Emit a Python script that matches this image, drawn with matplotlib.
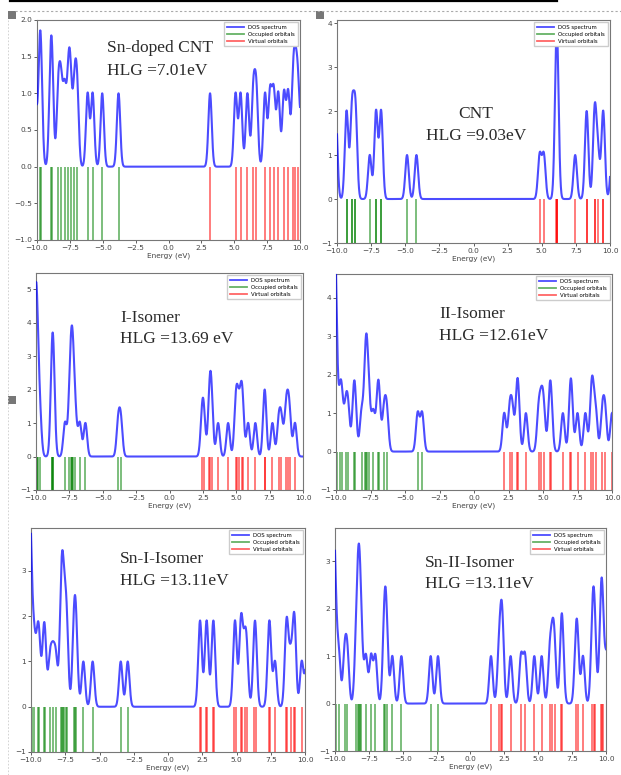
import numpy as np
import matplotlib
matplotlib.use('Agg')
import matplotlib.pyplot as plt
from matplotlib.patches import Rectangle
from matplotlib.lines import Line2D

# ---------------- data ----------------
names = ["Sn-doped CNT", "CNT", "I-Isomer", "II-Isomer", "Sn-I-Isomer", "Sn-II-Isomer"]
hlg_labels = ["HLG =7.01eV", "HLG =9.03eV", "HLG =13.69 eV", "HLG =12.61eV",
              "HLG =13.11eV", "HLG =13.11eV"]

occ_sn_cnt = [-10.15, -9.8, -9.7, -8.97, -8.85, -8.38, -8.17, -7.9, -7.62, -7.45,
              -7.15, -6.95, -6.15, -5.77, -5.04, -3.8]
vir_sn_cnt = [3.16, 5.1, 5.48, 6.0, 6.45, 6.68, 7.34, 7.72, 8.0, 8.35, 8.78, 9.1,
              9.47, 9.65, 9.85, 10.2]

occ_cnt = [-10.1, -10.1, -9.3, -9.3, -8.9, -8.9, -8.65, -8.65, -7.6, -7.14, -7.14,
           -6.77, -6.77, -4.87, -4.18]
vir_cnt = [4.85, 5.15, 6.06, 6.09, 6.11, 6.14, 7.45, 8.29, 8.29, 8.88, 8.88, 9.12,
           9.5, 9.5, 10.15]

occ_iso1 = [-10.05, -10.05, -10.05, -9.95, -9.95, -9.85, -9.7, -8.8, -8.8, -8.7, -8.7,
            -7.83, -7.5, -7.4, -7.3, -7.3, -7.2, -7.05, -6.72, -6.3, -3.84, -3.64]
vir_iso1 = [2.44, 2.57, 2.98, 3.07, 3.16, 3.64, 4.39, 4.95, 5.05, 5.22, 5.4, 5.47,
            5.89, 6.43, 7.13, 7.13, 7.71, 8.18, 8.38, 8.7, 8.85, 9.0, 9.4]

occ_iso2 = [-10.1, -10.1, -10.1, -10.1, -10.1, -9.95, -9.7, -9.58, -9.3, -9.12,
            -8.72, -8.62, -8.15, -7.88, -7.82, -7.76, -7.6, -7.3, -6.98, -6.88,
            -6.52, -6.32, -4.08, -3.76]
vir_iso2 = [2.19, 2.58, 2.78, 3.12, 3.2, 3.76, 4.68, 4.88, 5.05, 5.48, 5.58, 6.44,
            6.98, 7.06, 7.5, 8.07, 8.5, 8.6, 8.82, 9.3, 9.5, 10.0]

occ_sn_iso1 = [-10.1, -10.1, -10.1, -10.1, -9.9, -9.75, -9.52, -9.4, -9.08, -8.98,
               -8.62, -8.4, -8.18, -7.82, -7.76, -7.7, -7.6, -7.45, -7.38, -6.89,
               -6.79, -6.69, -6.18, -5.5, -3.45, -2.94]
vir_sn_iso1 = [2.3, 2.38, 2.78, 2.86, 3.27, 3.35, 4.85, 4.93, 5.3, 5.37, 5.6, 5.75,
               6.31, 6.39, 7.36, 7.44, 7.81, 8.62, 8.7, 8.95, 9.2, 9.24, 9.76, 10.12]

occ_sn_iso2 = [-10.1, -10.1, -10.1, -9.95, -9.72, -9.29, -9.09, -8.45, -8.3, -8.25,
               -8.18, -8.05, -7.72, -7.34, -7.02, -6.38, -6.29, -6.18, -5.77, -5.1,
               -2.94, -2.4]
vir_sn_iso2 = [1.51, 2.1, 2.28, 2.36, 2.96, 3.73, 4.02, 4.71, 5.25, 5.85, 6.05, 6.2,
               6.7, 6.78, 7.78, 7.9, 8.3, 8.98, 9.08, 9.18, 9.6, 9.68, 9.76, 10.05]

occupied = [occ_sn_cnt, occ_cnt, occ_iso1, occ_iso2, occ_sn_iso1, occ_sn_iso2]
virtual = [vir_sn_cnt, vir_cnt, vir_iso1, vir_iso2, vir_sn_iso1, vir_sn_iso2]
y_top = [2.0, 4.07, 5.48, 4.62, 3.95, 3.7]
fwhm = 0.3  # eV, gaussian broadening

# ---------------- layout (pixels of a 621x775 canvas) ----------------
W, H = 621, 775
fig = plt.figure(figsize=(W / 100, H / 100), dpi=100)
fig.patch.set_facecolor('white')

def px_axes(x0, y0, x1, y1):
    return fig.add_axes([x0 / W, 1 - y1 / H, (x1 - x0) / W, (y1 - y0) / H])

boxes = [(37, 20, 300, 240), (337, 20, 610, 243),
         (36, 273, 303, 490), (336, 274, 612, 490),
         (31, 528, 305, 752), (335, 528, 606, 751)]

# text anchors: (x, baseline line1, baseline line2, ha)
text_pos = [(107, 52, 75, 'left'), (476, 118, 140, 'center'),
            (120, 322, 343, 'left'), (439, 318, 340, 'left'),
            (120, 563, 585, 'left'), (425, 567, 588, 'left')]

E = np.linspace(-10, 10, 2001)
sigma = fwhm / 2.3548

for i in range(6):
    ax = px_axes(*boxes[i])
    levels = np.array(occupied[i] + virtual[i])
    dos = np.exp(-(E[:, None] - levels[None, :]) ** 2 / (2 * sigma ** 2)).sum(axis=1)
    ax.plot(E, dos, color='blue', alpha=0.7, lw=1.5, label='DOS spectrum', zorder=3)
    ax.vlines(occupied[i], -1, 0, colors='green', alpha=0.6, lw=1.2,
              label='Occupied orbitals')
    ax.vlines(virtual[i], -1, 0, colors='red', alpha=0.6, lw=1.2,
              label='Virtual orbitals')
    ax.set_xlim(-10, 10)
    ax.set_ylim(-1, y_top[i])
    ax.set_xticks(np.arange(-10, 10.01, 2.5))
    ax.set_xticklabels([f"{v:.1f}".replace('-', '\u2212') for v in np.arange(-10, 10.01, 2.5)])
    if i == 0:
        yt = np.arange(-1, 2.01, 0.5)
        ax.set_yticks(yt)
        ax.set_yticklabels([f"{v:.1f}".replace('-', '\u2212') for v in yt])
    else:
        yt = np.arange(-1, int(y_top[i]) + 1)
        ax.set_yticks(yt)
    ax.tick_params(labelsize=5.3, length=2.2, width=0.6, pad=1.2, colors='#444')
    for s in ax.spines.values():
        s.set_color('#777')
        s.set_linewidth(0.8)
    ax.set_xlabel('Energy (eV)', fontsize=5.3, labelpad=1.5, color='#444')
    handles = [Line2D([], [], color='blue', alpha=0.7, lw=1.3),
               Line2D([], [], color='green', alpha=0.6, lw=1.3),
               Line2D([], [], color='red', alpha=0.6, lw=1.3)]
    ax.legend(handles, ['DOS spectrum', 'Occupied orbitals', 'Virtual orbitals'],
              loc='upper right', fontsize=3.9, handlelength=3.2, borderpad=0.5,
              labelspacing=0.35, handletextpad=0.8, framealpha=1.0,
              edgecolor='#ccc', fancybox=False, borderaxespad=0.4)
    tx, b1, b2, ha = text_pos[i]
    fig.text(tx / W, 1 - b1 / H, names[i], fontsize=12.5, family='Liberation Serif',
             color='#2a2a2a', ha=ha, va='baseline')
    fig.text(tx / W, 1 - b2 / H, hlg_labels[i], fontsize=12.5, family='Liberation Serif',
             color='#2a2a2a', ha=ha, va='baseline')

# ---------------- page decorations ----------------
fig.add_artist(Line2D([10 / W, 557 / W], [1 - 1 / H, 1 - 1 / H], color='black', lw=1.6))
fig.add_artist(Line2D([15 / W, 1.0], [1 - 11 / H, 1 - 11 / H], color='#aaa', lw=0.8,
                      linestyle=(0, (2, 2))))
fig.add_artist(Line2D([8 / W, 8 / W], [1 - 20 / H, 0], color='#ccc', lw=0.6,
                      linestyle=(0, (2, 2))))
for (sx, sy) in [(8, 11), (316, 11), (8, 396)]:
    fig.add_artist(Rectangle((sx / W, 1 - (sy + 8) / H), 8 / W, 8 / H,
                             facecolor='#777', edgecolor='none'))

fig.savefig('out.png', dpi=100)
